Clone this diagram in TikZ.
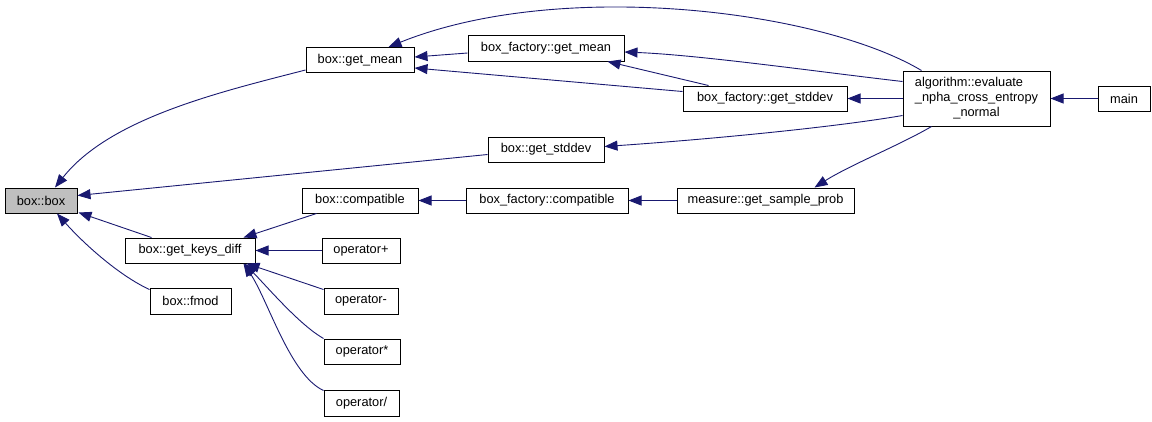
\documentclass[tikz,border=0pt]{standalone}
\usepackage{fontspec}
\setmainfont{Liberation Sans}
\usetikzlibrary{arrows.meta,calc}
\definecolor{edgecol}{HTML}{191970}
\definecolor{grayfill}{HTML}{BFBFBF}
\newlength{\lnw}
\begin{document}
\begin{tikzpicture}[x=1pt,y=-1pt,
  nd/.style={draw=black, line width=1pt, fill=white, inner sep=0pt, minimum height=25pt,
    font=\fontsize{12.8}{15}\selectfont, align=center},
  ed/.style={draw=edgecol, line width=0.9pt, -{Triangle[length=13pt,width=10pt]}, edgecol}]
\useasboundingbox (0,0) rectangle (1152,421);
% nodes
\node[nd, fill=grayfill, minimum width=72pt] (boxbox) at (41,200.5) {box::box};
\node[nd, minimum width=108pt] (getmean) at (360,60) {box::get\_mean};
\node[nd, minimum width=156pt, minimum height=26pt] (bfgetmean) at (546,48) {box\_factory::get\_mean};
\node[nd, minimum width=164pt] (bfgetstddev) at (765,98.5) {box\_factory::get\_stddev};
\node[nd, minimum width=147pt, minimum height=55pt] (algo) at (976.5,98.5)
  {\settowidth{\lnw}{\_npha\_cross\_entropy}\makebox[\lnw][l]{algorithm::evaluate}\\\_npha\_cross\_entropy\\\_normal};
\node[nd, minimum width=52pt] (main) at (1124,98.5) {main};
\node[nd, minimum width=116pt] (getstddev) at (546,149.5) {box::get\_stddev};
\node[nd, minimum width=116pt] (boxcompat) at (360,200.5) {box::compatible};
\node[nd, minimum width=162pt] (bfcompat) at (547,200.5) {box\_factory::compatible};
\node[nd, minimum width=177pt] (measure) at (765.5,200.5) {measure::get\_sample\_prob};
\node[nd, minimum width=130pt] (keysdiff) at (190,250.5) {box::get\_keys\_diff};
\node[nd, minimum width=78pt] (opplus) at (361,250.5) {operator+};
\node[nd, minimum width=81pt, minimum height=26pt] (fmod) at (190.5,301) {box::fmod};
\node[nd, minimum width=74pt, minimum height=26pt] (opminus) at (361,301) {operator-};
\node[nd, minimum width=76pt] (opstar) at (362,351.5) {operator*};
\node[nd, minimum width=75pt, minimum height=26pt] (opslash) at (361.5,403) {operator/};
% edges
\draw[ed] ($(getmean.south west)+(0,-3)$) .. controls (220,92) and (110,118) .. ($(boxbox.north)+(14,0)$);
\draw[ed] ($(getstddev.west)+(0,5)$) -- ($(boxbox.east)+(0,-5)$);
\draw[ed] ($(keysdiff.north west)+(27,0)$) -- ($(boxbox.south east)+(1,-1)$);
\draw[ed] ($(fmod.north west)+(0,2)$) .. controls (120,276) and (85,245) .. ($(boxbox.south)+(16,0)$);
\draw[ed] ($(bfgetmean.west)+(0,5)$) -- ($(getmean.east)+(0,-3)$);
\draw[ed] ($(bfgetstddev.west)+(0,-7)$) -- ($(getmean.east)+(0,8)$);
\draw[ed] ($(algo.north west)+(19,0)$) .. controls (820,10) and (560,-22) .. ($(getmean.north east)+(-26,0)$);
\draw[ed] ($(algo.west)+(0,-17)$) .. controls (820,72) and (700,55) .. ($(bfgetmean.east)+(0,4)$);
\draw[ed] ($(bfgetstddev.north west)+(26,0)$) -- ($(bfgetmean.south east)+(-17,0)$);
\draw[ed] (algo.west) -- (bfgetstddev.east);
\draw[ed] ($(algo.west)+(0,17)$) .. controls (830,128) and (700,140) .. ($(getstddev.east)+(0,-3)$);
\draw[ed] (main.west) -- (algo.east);
\draw[ed] ($(algo.south west)+(29,0)$) .. controls (900,145) and (850,165) .. ($(measure.north)+(49,0)$);
\draw[ed] (measure.west) -- (bfcompat.east);
\draw[ed] (bfcompat.west) -- (boxcompat.east);
\draw[ed] ($(boxcompat.south west)+(15,0)$) -- ($(keysdiff.north east)+(-12,0)$);
\draw[ed] (opplus.west) -- (keysdiff.east);
\draw[ed] ($(opminus.north west)+(0,2)$) -- ($(keysdiff.south east)+(-9,0)$);
\draw[ed] (opstar.north west) .. controls (300,325) and (270,290) .. ($(keysdiff.south east)+(-11,0)$);
\draw[ed] ($(opslash.north west)+(0,1)$) .. controls (290,375) and (268,300) .. ($(keysdiff.south east)+(-12,0)$);
\end{tikzpicture}
\end{document}
